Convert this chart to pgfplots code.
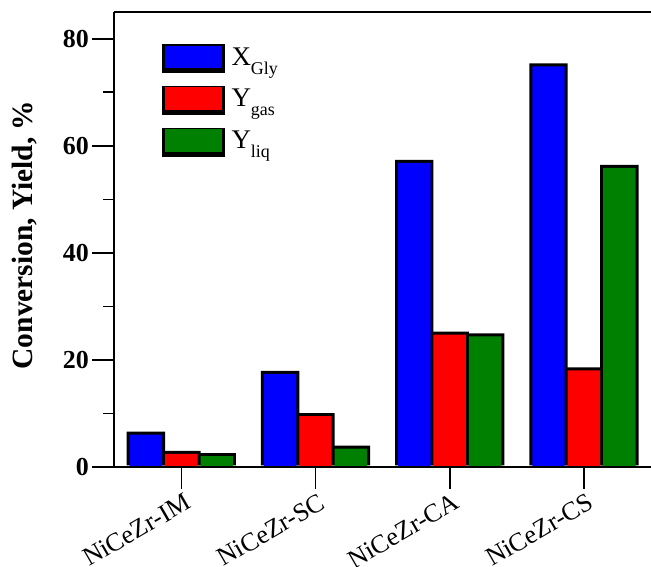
\documentclass[border=0pt]{standalone}
\usepackage{fontspec}
\setmainfont{Liberation Serif}
\usepackage{pgfplots}
\pgfplotsset{compat=1.18}
\definecolor{cblue}{RGB}{0,0,255}
\definecolor{cred}{RGB}{255,0,0}
\definecolor{cgreen}{RGB}{0,128,0}
\newcommand{\lsub}[1]{\raisebox{-9pt}{\fontsize{18}{18}\selectfont #1}}
\pgfplotstableread{
x  xg     yg    yl
0  6.3    2.7   2.3
1  17.65  9.75  3.7
2  57.1   25.0  24.65
3  75.1   18.3  56.15
}\datatab
\begin{document}
\begin{tikzpicture}
\begin{axis}[
  scale only axis,
  width=538pt, height=456pt,
  xmin=-0.5, xmax=3.5,
  ymin=0, ymax=85,
  axis y line*=left,
  axis x line*=box,
  axis line style={-, line width=1.6pt},
  axis on top,
  xtick={0,1,2,3},
  xticklabels={NiCeZr-IM,NiCeZr-SC,NiCeZr-CA,NiCeZr-CS},
  xtick pos=bottom, ytick pos=left,
  ytick={0,20,40,60,80},
  minor ytick={10,30,50,70},
  tick align=outside,
  major tick length=22pt,
  minor tick length=11pt,
  every tick/.style={line width=1.6pt, black},
  /pgf/number format/assume math mode=true,
  yticklabel style={font=\bfseries\fontsize{26}{26}\selectfont},
  xticklabel style={rotate=30, anchor=north east, font=\fontsize{26}{26}\selectfont, xshift=4pt, yshift=-1pt},
  ylabel={Conversion, Yield, \%},
  every axis y label/.style={at={(axis description cs:-0.167,0.51)}, rotate=90, anchor=center, font=\bfseries\fontsize{29.5}{29.5}\selectfont},
  ybar=0pt,
  legend style={at={(axis description cs:0.088,0.93)}, anchor=north west, draw=none, fill=none, inner sep=0pt,
    font=\fontsize{27}{27}\selectfont, row sep=13pt, cells={anchor=west}, nodes={inner xsep=7pt}},
  legend image code/.code={
    \fill[black] (-1.5pt,-14.5pt) rectangle (61.5pt,14.5pt);
    \fill[#1, yshift=1.5pt] (1.5pt,-11.5pt) rectangle (58.5pt,11.5pt);},
]
% black outline layer
\addplot[ybar, fill=black, draw=none, bar width=0.2863, bar shift=-0.264, yshift=1.5pt, forget plot] table[x=x, y=xg] {\datatab};
\addplot[ybar, fill=black, draw=none, bar width=0.2863, bar shift=0, yshift=1.5pt, forget plot] table[x=x, y=yg] {\datatab};
\addplot[ybar, fill=black, draw=none, bar width=0.2863, bar shift=0.264, yshift=1.5pt, forget plot] table[x=x, y=yl] {\datatab};
% coloured bars
\addplot[ybar, fill=cblue, draw=none, bar width=0.2417, bar shift=-0.264, yshift=-1.5pt] table[x=x, y=xg] {\datatab};
\addlegendentry{X\lsub{Gly}}
\addplot[ybar, fill=cred, draw=none, bar width=0.2417, bar shift=0, yshift=-1.5pt] table[x=x, y=yg] {\datatab};
\addlegendentry{Y\lsub{gas}}
\addplot[ybar, fill=cgreen, draw=none, bar width=0.2417, bar shift=0.264, yshift=-1.5pt] table[x=x, y=yl] {\datatab};
\addlegendentry{Y\lsub{liq}}
\coordinate (bl) at (rel axis cs:0,0);
\coordinate (tr) at (rel axis cs:1,1);
\end{axis}
\pgfresetboundingbox
\path ([shift={(-114.5pt,-100pt)}]bl) rectangle ([shift={(0pt,12pt)}]tr);
\end{tikzpicture}
\end{document}
